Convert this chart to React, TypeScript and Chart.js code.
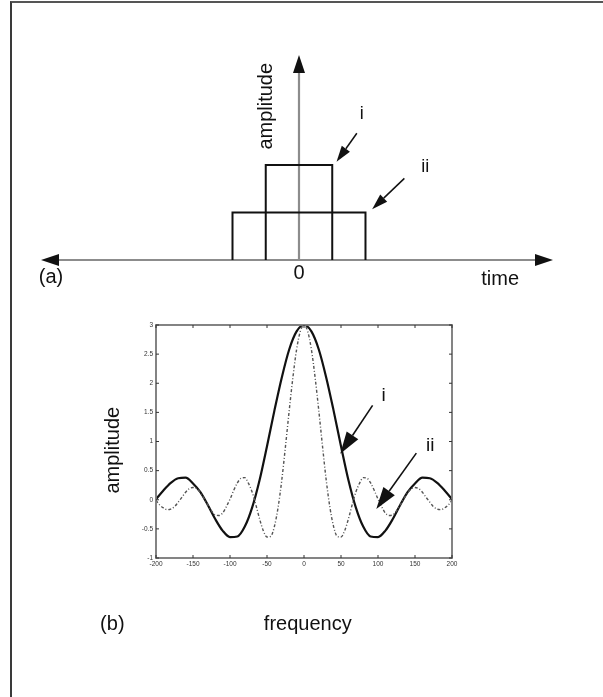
import React, { useEffect, useRef } from "react";
import { Chart, registerables } from "chart.js";

Chart.register(...registerables);

const FONT = '"Liberation Sans", Arial, Helvetica, sans-serif';

// ---- (a) time-domain pulses ----
const pulseITime = [-1, -1, 1, 1];
const pulseIAmp = [0, 2, 2, 0];
const pulseIITime = [-2, -2, 2, 2];
const pulseIIAmp = [0, 1, 1, 0];

// ---- (b) spectra ----
const freqSolid = [
  -200, -190, -180, -170, -160, -150, -140, -130, -120, -110, -100, -90, -80, -70, -60, -50, -40, -30, -20, -10,
  0, 10, 20, 30, 40, 50, 60, 70, 80, 90, 100, 110, 120, 130, 140, 150, 160, 170, 180, 190, 200,
];
const ampSolid = [
  0.01, 0.16, 0.29, 0.37, 0.38, 0.28, 0.13, -0.09, -0.33, -0.53, -0.64, -0.63, -0.46, -0.13, 0.34, 0.92, 1.53, 2.1, 2.58, 2.89,
  3.0, 2.89, 2.58, 2.1, 1.53, 0.92, 0.34, -0.13, -0.46, -0.63, -0.64, -0.53, -0.33, -0.09, 0.13, 0.28, 0.38, 0.37, 0.29, 0.16, 0.01,
];
const freqDotted = [
  -200, -195, -190, -185, -180, -175, -170, -165, -160, -155, -150, -145, -140, -135, -130, -125, -120, -115, -110, -105,
  -100, -95, -90, -85, -80, -75, -70, -65, -60, -55, -50, -45, -40, -35, -30, -25, -20, -15, -10, -5,
  0, 5, 10, 15, 20, 25, 30, 35, 40, 45, 50, 55, 60, 65, 70, 75, 80, 85, 90, 95,
  100, 105, 110, 115, 120, 125, 130, 135, 140, 145, 150, 155, 160, 165, 170, 175, 180, 185, 190, 195, 200,
];
const ampDotted = [
  -0.01, -0.09, -0.14, -0.17, -0.16, -0.12, -0.04, 0.04, 0.13, 0.19, 0.21, 0.19, 0.12, 0.02, -0.09, -0.19, -0.26, -0.27, -0.23, -0.12,
  0.01, 0.16, 0.29, 0.37, 0.38, 0.28, 0.13, -0.09, -0.33, -0.53, -0.64, -0.63, -0.46, -0.13, 0.34, 0.92, 1.53, 2.1, 2.58, 2.89,
  3.0, 2.89, 2.58, 2.1, 1.53, 0.92, 0.34, -0.13, -0.46, -0.63, -0.64, -0.53, -0.33, -0.09, 0.13, 0.28, 0.38, 0.37, 0.29, 0.16,
  0.01, -0.12, -0.23, -0.27, -0.26, -0.19, -0.09, 0.02, 0.12, 0.19, 0.21, 0.19, 0.13, 0.04, -0.04, -0.12, -0.16, -0.17, -0.14, -0.09, -0.01,
];

const W = 603;
const TOP_H = 300;
const BOT_TOP = 300;
const BOT_H = 397;

function head(ctx: CanvasRenderingContext2D, x1: number, y1: number, x2: number, y2: number, len: number, half: number) {
  const a = Math.atan2(y2 - y1, x2 - x1);
  const bx = x2 - len * Math.cos(a);
  const by = y2 - len * Math.sin(a);
  ctx.beginPath();
  ctx.moveTo(x2, y2);
  ctx.lineTo(bx + half * Math.sin(a), by - half * Math.cos(a));
  ctx.lineTo(bx - half * Math.sin(a), by + half * Math.cos(a));
  ctx.closePath();
  ctx.fill();
  return [bx, by];
}

function arrow(ctx: CanvasRenderingContext2D, x1: number, y1: number, x2: number, y2: number, len: number, half: number, lw: number) {
  ctx.save();
  ctx.strokeStyle = "#111";
  ctx.fillStyle = "#111";
  ctx.lineWidth = lw;
  const [bx, by] = head(ctx, x1, y1, x2, y2, len, half);
  ctx.beginPath();
  ctx.moveTo(x1, y1);
  ctx.lineTo(bx, by);
  ctx.stroke();
  ctx.restore();
}

function text(ctx: CanvasRenderingContext2D, s: string, x: number, y: number, size: number, rot = 0) {
  ctx.save();
  ctx.fillStyle = "#111";
  ctx.font = `${size}px ${FONT}`;
  ctx.textAlign = "center";
  ctx.textBaseline = "middle";
  ctx.translate(x, y);
  if (rot) ctx.rotate(rot);
  ctx.fillText(s, 0, 0);
  ctx.restore();
}

const topDecor = {
  id: "topDecor",
  beforeDatasetsDraw(chart: any) {
    const { ctx, scales } = chart;
    const x = scales.x;
    const y = scales.y;
    const x0 = x.getPixelForValue(0);
    const y0 = y.getPixelForValue(0);
    ctx.save();
    ctx.strokeStyle = "#8c8c8c";
    ctx.lineWidth = 2.2;
    ctx.beginPath();
    ctx.moveTo(x.left + 12, y0);
    ctx.lineTo(x.right - 12, y0);
    ctx.moveTo(x0, y0);
    ctx.lineTo(x0, y.top + 12);
    ctx.stroke();
    ctx.fillStyle = "#111";
    head(ctx, x.left + 30, y0, x.left, y0, 18, 6);
    head(ctx, x.right - 30, y0, x.right, y0, 18, 6);
    head(ctx, x0, y.top + 30, x0, y.top, 18, 6);
    ctx.restore();
  },
  afterDraw(chart: any) {
    const { ctx, scales } = chart;
    const px = (v: number) => scales.x.getPixelForValue(v);
    const py = (v: number) => scales.y.getPixelForValue(v);
    text(ctx, "amplitude", px(-0.97), py(3.24), 20, -Math.PI / 2);
    text(ctx, "i", px(1.89), py(3.07), 18);
    text(ctx, "ii", px(3.8), py(1.95), 18);
    arrow(ctx, px(1.74), py(2.67), px(1.13), py(2.07), 16, 5, 1.5);
    arrow(ctx, px(3.17), py(1.72), px(2.2), py(1.07), 16, 5, 1.5);
    text(ctx, "0", px(0), py(-0.29), 20);
    text(ctx, "(a)", px(-7.46), py(-0.36), 20);
    text(ctx, "time", px(6.05), py(-0.42), 20);
  },
};

const botDecor = {
  id: "botDecor",
  afterDraw(chart: any) {
    const { ctx, scales, chartArea } = chart;
    const x = scales.x;
    const y = scales.y;
    const px = (v: number) => x.getPixelForValue(v);
    const py = (v: number) => y.getPixelForValue(v);
    ctx.save();
    ctx.strokeStyle = "#777";
    ctx.lineWidth = 1.8;
    ctx.strokeRect(chartArea.left, chartArea.top, chartArea.right - chartArea.left, chartArea.bottom - chartArea.top);
    ctx.strokeStyle = "#333";
    ctx.lineWidth = 1;
    ctx.beginPath();
    x.ticks.forEach((t: any) => {
      const p = px(t.value);
      ctx.moveTo(p, chartArea.bottom);
      ctx.lineTo(p, chartArea.bottom - 3);
      ctx.moveTo(p, chartArea.top);
      ctx.lineTo(p, chartArea.top + 3);
    });
    y.ticks.forEach((t: any) => {
      const p = py(t.value);
      ctx.moveTo(chartArea.left, p);
      ctx.lineTo(chartArea.left + 3, p);
      ctx.moveTo(chartArea.right, p);
      ctx.lineTo(chartArea.right - 3, p);
    });
    ctx.stroke();
    ctx.restore();

    arrow(ctx, px(92.7), py(1.62), px(49), py(0.79), 22, 7, 1.6);
    arrow(ctx, px(151.8), py(0.8), px(97.7), py(-0.16), 22, 7, 1.6);
    text(ctx, "i", px(107.6), py(1.79), 19);
    text(ctx, "ii", px(170.7), py(0.92), 19);
    text(ctx, "amplitude", px(-257.7), py(0.85), 20, -Math.PI / 2);
    text(ctx, "(b)", px(-259), py(-2.14), 20);
    text(ctx, "frequency", px(5.1), py(-2.14), 20);
  },
};

export default function App() {
  const topRef = useRef<HTMLCanvasElement | null>(null);
  const botRef = useRef<HTMLCanvasElement | null>(null);

  useEffect(() => {
    const topChart = new Chart(topRef.current as HTMLCanvasElement, {
      type: "line",
      data: {
        datasets: [
          {
            data: pulseIITime.map((t, i) => ({ x: t, y: pulseIIAmp[i] })),
            borderColor: "#111",
            borderWidth: 2,
            pointRadius: 0,
            tension: 0,
            fill: false,
          },
          {
            data: pulseITime.map((t, i) => ({ x: t, y: pulseIAmp[i] })),
            borderColor: "#111",
            borderWidth: 2,
            pointRadius: 0,
            tension: 0,
            fill: false,
          },
        ],
      },
      options: {
        responsive: false,
        animation: false,
        layout: { padding: { left: 41, right: 50, top: 55, bottom: 40 } },
        scales: {
          x: { type: "linear", min: -7.76, max: 7.64, display: false },
          y: { type: "linear", min: 0, max: 4.32, display: false },
        },
        plugins: { legend: { display: false }, tooltip: { enabled: false } },
      },
      plugins: [topDecor],
    } as any);

    const tickFont = { size: 6.5, family: FONT };
    const fmt = (v: any) => String(Number(v));
    const botChart = new Chart(botRef.current as HTMLCanvasElement, {
      type: "line",
      data: {
        datasets: [
          {
            data: freqDotted.map((f, i) => ({ x: f, y: ampDotted[i] })),
            borderColor: "#555",
            borderWidth: 1.4,
            borderDash: [3, 2, 1, 2],
            pointRadius: 0,
            cubicInterpolationMode: "monotone",
            fill: false,
          },
          {
            data: freqSolid.map((f, i) => ({ x: f, y: ampSolid[i] })),
            borderColor: "#111",
            borderWidth: 2.2,
            pointRadius: 0,
            cubicInterpolationMode: "monotone",
            fill: false,
          },
        ],
      },
      options: {
        responsive: false,
        animation: false,
        layout: { padding: { left: 136, right: 151, top: 25, bottom: 127 } },
        scales: {
          x: {
            type: "linear",
            min: -200,
            max: 200,
            grid: { display: false, drawTicks: false },
            border: { display: false },
            ticks: { stepSize: 50, font: tickFont, color: "#333", maxRotation: 0, autoSkip: false, padding: 2, callback: fmt },
            afterFit: (s: any) => {
              s.height = 12;
            },
          },
          y: {
            type: "linear",
            min: -1,
            max: 3,
            grid: { display: false, drawTicks: false },
            border: { display: false },
            ticks: { stepSize: 0.5, font: tickFont, color: "#333", padding: 3, callback: fmt },
            afterFit: (s: any) => {
              s.width = 20;
            },
          },
        },
        plugins: { legend: { display: false }, tooltip: { enabled: false } },
      },
      plugins: [botDecor],
    } as any);

    return () => {
      topChart.destroy();
      botChart.destroy();
    };
  }, []);

  return (
    <div style={{ position: "absolute", left: 0, top: 0, width: W, height: 697, background: "#fff", overflow: "hidden" }}>
      <div
        style={{
          position: "absolute",
          left: 10,
          top: 1,
          width: W,
          height: 700,
          borderLeft: "2px solid #3a3a3a",
          borderTop: "2px solid #555",
          boxSizing: "border-box",
        }}
      />
      <canvas
        ref={topRef}
        width={W}
        height={TOP_H}
        style={{ position: "absolute", left: 0, top: 0, width: W, height: TOP_H }}
      />
      <canvas
        ref={botRef}
        width={W}
        height={BOT_H}
        style={{ position: "absolute", left: 0, top: BOT_TOP, width: W, height: BOT_H }}
      />
    </div>
  );
}
